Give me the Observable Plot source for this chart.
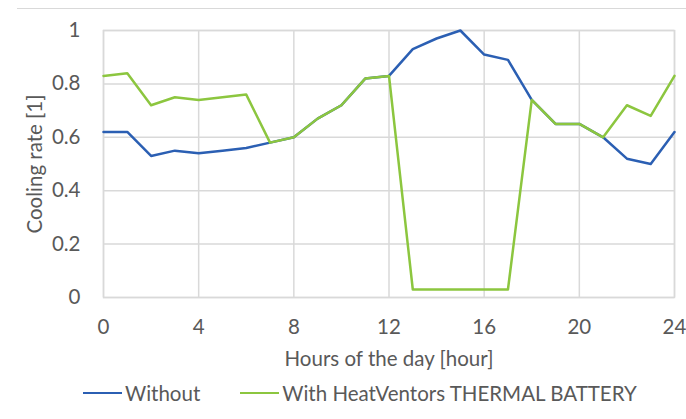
<!DOCTYPE html>
<html>
<head>
<meta charset="utf-8">
<script src="https://cdn.jsdelivr.net/npm/d3@7"></script>
<script src="https://cdn.jsdelivr.net/npm/@observablehq/plot@0.6"></script>
<style>
  html, body { margin: 0; padding: 0; background: #fff; }
  #wrap { position: relative; width: 686px; height: 419px; overflow: hidden; font-family: Lato, "Open Sans", sans-serif; color: #595959; }
  #topline { position: absolute; left: 17px; right: 0; top: 8px; height: 0; border-top: 1.5px solid #d9d9d9; }
  #legend { position: absolute; left: 83px; top: 380px; height: 26px; display: flex; align-items: center; font-size: 20.5px; white-space: nowrap; }
  .sw { display: inline-block; width: 39px; height: 0; border-top: 2.5px solid; margin-right: 3px; }
  .item { display: flex; align-items: center; }
</style>
</head>
<body>
<div id="wrap">
  <div id="topline"></div>
  <div id="chart"></div>
  <div id="legend"></div>
</div>
<script>
const hours = [0,1,2,3,4,5,6,7,8,9,10,11,12,13,14,15,16,17,18,19,20,21,22,23,24];
const without = [0.62,0.62,0.53,0.55,0.54,0.55,0.56,0.58,0.60,0.67,0.72,0.82,0.83,0.93,0.97,1.00,0.91,0.89,0.74,0.65,0.65,0.60,0.52,0.50,0.62];
const withBattery = [0.83,0.84,0.72,0.75,0.74,0.75,0.76,0.58,0.60,0.67,0.72,0.82,0.83,0.03,0.03,0.03,0.03,0.03,0.74,0.65,0.65,0.60,0.72,0.68,0.83];
const seriesNames = ["Without", "With HeatVentors THERMAL BATTERY"];
const seriesColors = ["#2b5fb3", "#8cc63f"];
const xTicks = [0,4,8,12,16,20,24];
const yTicks = [0,0.2,0.4,0.6,0.8,1];
const xLabel = "Hours of the day [hour]";
const yLabel = "Cooling rate [1]";

const rows = [];
hours.forEach((h, i) => {
  rows.push({hour: h, value: without[i], series: seriesNames[0]});
});
hours.forEach((h, i) => {
  rows.push({hour: h, value: withBattery[i], series: seriesNames[1]});
});

const fs = 20.5;
const grid = "#d9d9d9";

const chart = Plot.plot({
  width: 686,
  height: 375,
  marginLeft: 103,
  marginRight: 12,
  marginTop: 30,
  marginBottom: 78,
  style: {fontFamily: "Lato, 'Open Sans', sans-serif", fontSize: fs + "px", color: "#595959", background: "transparent"},
  x: {domain: [0, 24]},
  y: {domain: [0, 1]},
  color: {domain: seriesNames, range: seriesColors},
  marks: [
    Plot.gridX(xTicks, {stroke: grid, strokeOpacity: 1, strokeWidth: 1.5}),
    Plot.gridY(yTicks, {stroke: grid, strokeOpacity: 1, strokeWidth: 1.5}),
    Plot.frame({stroke: grid, strokeWidth: 1.5}),
    Plot.axisX(xTicks, {tickSize: 0, tickPadding: 22, label: null, fontSize: fs, fill: "#595959"}),
    Plot.axisY(yTicks, {tickSize: 0, tickPadding: 23, label: null, tickFormat: d => String(d), fontSize: fs, fill: "#595959"}),
    Plot.line(rows, {x: "hour", y: "value", z: "series", stroke: "series", strokeWidth: 2.5, strokeLinejoin: "round"}),
    Plot.text([xLabel], {text: d => d, frameAnchor: "bottom", lineAnchor: "middle", textAnchor: "middle", dy: 62, fontSize: fs, fill: "#595959"}),
    Plot.text([yLabel], {text: d => d, frameAnchor: "left", lineAnchor: "middle", textAnchor: "middle", dx: -68, rotate: -90, fontSize: fs, fill: "#595959"})
  ]
});
document.getElementById("chart").appendChild(chart);

const legend = document.getElementById("legend");
seriesNames.forEach((name, i) => {
  const item = document.createElement("span");
  item.className = "item";
  if (i > 0) item.style.marginLeft = "40px";
  const sw = document.createElement("span");
  sw.className = "sw";
  sw.style.borderColor = seriesColors[i];
  const t = document.createElement("span");
  t.textContent = name;
  item.appendChild(sw);
  item.appendChild(t);
  legend.appendChild(item);
});
</script>
</body>
</html>
